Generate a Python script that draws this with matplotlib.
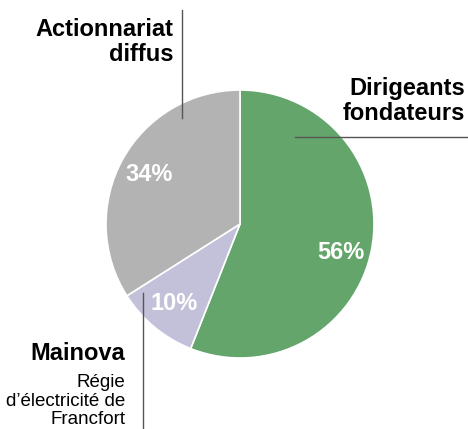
import matplotlib.pyplot as plt

labels = ["Dirigeants fondateurs", "Mainova", "Actionnariat diffus"]
shares = [56, 10, 34]
colors = ["#64a56c", "#c3c1d9", "#b3b3b3"]

plt.rcParams['font.family'] = ['Liberation Sans', 'DejaVu Sans']

fig = plt.figure(figsize=(4.68, 4.29), dpi=100)
ax = fig.add_axes([0, 0, 1, 1])

H = 429
wedges, texts, pcts = ax.pie(
    shares, colors=colors, startangle=90, counterclock=False,
    center=(240, H - 224), radius=134,
    autopct='%.0f%%', pctdistance=0.77,
    wedgeprops=dict(edgecolor='white', linewidth=1.2),
    textprops=dict(color='white', fontsize=17, fontweight='bold'),
)
# nudge the big slice label a bit lower like the original
pcts[0].set_y(pcts[0].get_position()[1] - 9)

ax.set_xlim(0, 468)
ax.set_ylim(0, H)
ax.set_aspect('equal')
ax.axis('off')

line_col = '#555555'
# Actionnariat diffus
ax.plot([182, 182], [H - 10, H - 118], color=line_col, lw=1)
ax.text(173, H - 42, "Actionnariat\ndiffus", ha='right', va='center',
        fontsize=17, fontweight='bold', linespacing=1.12)

# Dirigeants fondateurs
ax.plot([295, 467], [H - 137, H - 137], color=line_col, lw=1)
ax.text(465, H - 101, "Dirigeants\nfondateurs", ha='right', va='center',
        fontsize=17, fontweight='bold', linespacing=1.12)

# Mainova
ax.plot([143, 143], [H - 293, 0], color=line_col, lw=1)
ax.text(125, H - 353, "Mainova", ha='right', va='center',
        fontsize=17, fontweight='bold')
ax.text(125, H - 401, "Régie\nd’électricité de\nFrancfort", ha='right', va='center',
        fontsize=13.5, linespacing=1.15)

fig.savefig("out.png", dpi=100)
